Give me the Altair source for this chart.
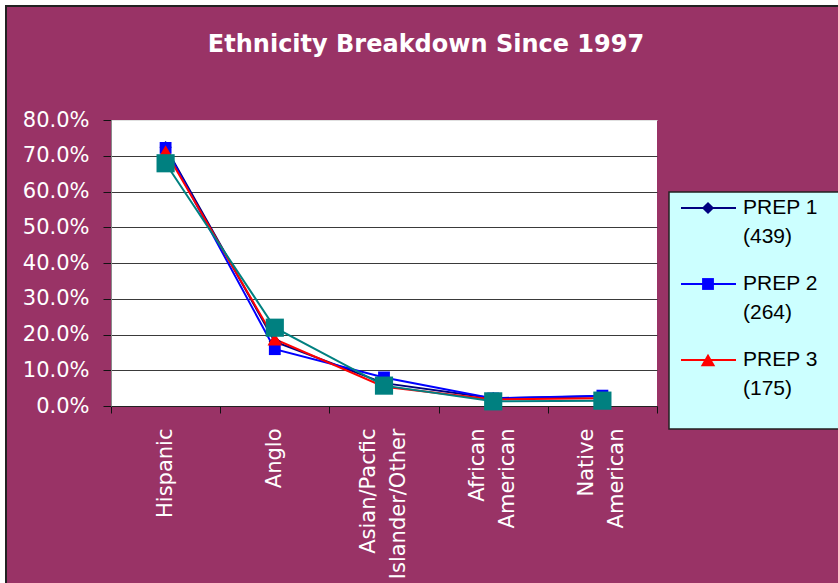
import altair as alt
import pandas as pd

# ---- data ----
title_text = ["Ethnicity Breakdown Since 1997"]
categories = ["Hispanic", "Anglo", "Asian/Pacfic|Islander/Other", "African|American", "Native|American"]
series = ["PREP 1", "PREP 2", "PREP 3", "Overall"]
prep1 = [72.4, 18.0, 6.4, 2.2, 2.7]
prep2 = [72.2, 15.9, 8.0, 2.1, 2.9]
prep3 = [71.2, 18.7, 5.4, 1.8, 2.2]
overall = [67.9, 21.9, 5.7, 1.3, 1.5]
legend_names = ["PREP 1", "PREP 2", "PREP 3"]
legend_counts = ["(439)", "(264)", "(175)"]

colors = ["#000080", "#0000FF", "#FF0000", "#008080"]
shapes = ["diamond", "square", "triangle-up", "square"]
sizes = [150, 140, 210, 330]

rows = []
for name, vals in zip(series, [prep1, prep2, prep3, overall]):
    for cat, v in zip(categories, vals):
        rows.append({"category": cat, "series": name, "value": v / 100.0})
df = pd.DataFrame(rows)

leg_df = pd.DataFrame({
    "series": legend_names,
    "label": [f"{n}\n{c}" for n, c in zip(legend_names, legend_counts)],
})
one = pd.DataFrame({"k": [0]})
title_df = pd.DataFrame({"t": title_text})

# ---- encodings ----
x_scale = alt.Scale(type="band", domain=categories, paddingInner=0, paddingOuter=0)
x_axis = alt.Axis(
    title=None,
    tickBand="extent",
    labelExpr="split(datum.label, '|')",
    labelAngle=270,
    labelAlign="right",
    labelBaseline="middle",
    labelFont="DejaVu Sans",
    labelFontSize=21,
    labelLineHeight=30,
    labelColor="white",
    labelPadding=15,
    labelOffset={"condition": {"test": "indexof(datum.label, '|') >= 0", "value": -16}, "value": 0},
    labelOverlap=False,
    tickSize=7,
    tickColor="#111111",
    domainColor="#222222",
    grid=False,
)
x_enc = alt.X("category:N", sort=categories, scale=x_scale, axis=x_axis)
y_scale = alt.Scale(domain=[0, 0.8], nice=False, zero=True)
y_axis = alt.Axis(
    title=None,
    values=[0, 0.1, 0.2, 0.3, 0.4, 0.5, 0.6, 0.7, 0.8],
    format=".1%",
    labelFont="DejaVu Sans",
    labelFontSize=21,
    labelColor="white",
    labelPadding=14,
    tickSize=8,
    tickColor="#111111",
    domainColor="#8a8a8a",
    grid=True,
    gridColor={"condition": {"test": "datum.value >= 0.8", "value": "#e0e0e0"}, "value": "#3a3a3a"},
    gridWidth=1.2,
)
y_enc = alt.Y("value:Q", scale=y_scale, axis=y_axis)
color_enc = alt.Color("series:N", scale=alt.Scale(domain=series, range=colors), legend=None)
shape_enc = alt.Shape("series:N", scale=alt.Scale(domain=series, range=shapes), legend=None)
size_enc = alt.Size("series:O", scale=alt.Scale(type="ordinal", domain=series, range=sizes), legend=None)

# ---- frame decoration ----
white_left = alt.Chart(one).mark_rect(fill="white").encode(
    x=alt.value(-111), x2=alt.value(-105), y=alt.value(-120), y2=alt.value(463))
white_top = alt.Chart(one).mark_rect(fill="white").encode(
    x=alt.value(-111), x2=alt.value(727), y=alt.value(-120), y2=alt.value(-114))
frame = alt.Chart(one).mark_rect(fill=None, stroke="#222222", strokeWidth=2).encode(
    x=alt.value(-105), x2=alt.value(800), y=alt.value(-114), y2=alt.value(520))
title = alt.Chart(title_df).mark_text(
    font="DejaVu Sans", fontSize=24, fontWeight="bold", color="white",
    align="center", baseline="alphabetic"
).encode(x=alt.value(315), y=alt.value(-68), text="t:N")

# ---- data layers ----
lines = alt.Chart(df).mark_line(strokeWidth=2).encode(
    x=x_enc, y=y_enc, color=color_enc, detail="series:N")
points = alt.Chart(df).mark_point(filled=True, opacity=1).encode(
    x=x_enc, y=alt.Y("value:Q", scale=y_scale, axis=None),
    color=color_enc, shape=shape_enc, size=size_enc)

# ---- legend ----
leg_y = alt.Y("series:N", scale=alt.Scale(type="point", domain=legend_names, range=[88, 240], padding=0), axis=None)
leg_box = alt.Chart(one).mark_rect(fill="#CCFFFF", stroke="#222222", strokeWidth=1.5).encode(
    x=alt.value(558), x2=alt.value(740), y=alt.value(72), y2=alt.value(309))
leg_lines = alt.Chart(leg_df).mark_rule(strokeWidth=2).encode(
    x=alt.value(570), x2=alt.value(625), y=leg_y, color=color_enc)
leg_points = alt.Chart(leg_df).mark_point(filled=True, opacity=1).encode(
    x=alt.value(597), y=leg_y, color=color_enc, shape=shape_enc, size=size_enc)
leg_text = alt.Chart(leg_df).mark_text(
    align="left", baseline="middle", lineBreak="\n", lineHeight=29,
    font="Liberation Sans", fontSize=21, color="black"
).encode(x=alt.value(632), y=leg_y, text="label:N")

chart = alt.layer(
    white_left, white_top, frame, title, lines, points, leg_box, leg_lines, leg_points, leg_text
).resolve_scale(y="independent").properties(
    width=546,
    height=286,
    background="#993366",
    padding={"left": 111, "top": 120, "right": 181, "bottom": 177},
    autosize=alt.AutoSizeParams(type="none"),
).configure_view(fill="white", stroke=None)

chart.save("out.html", embed_options={"renderer": "svg", "actions": False})
